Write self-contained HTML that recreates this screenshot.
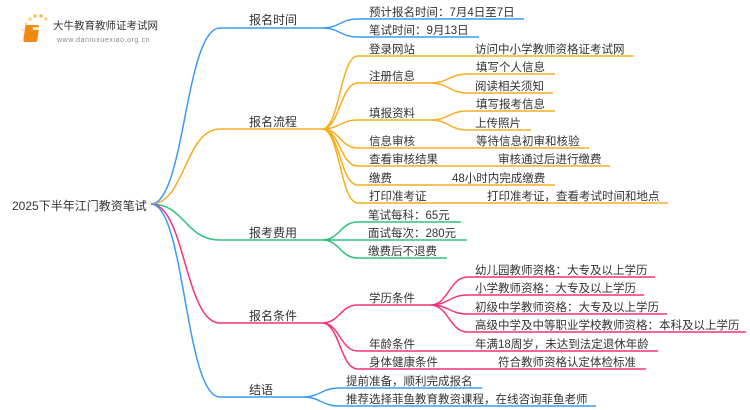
<!DOCTYPE html>
<html><head><meta charset="utf-8"><style>
html,body{margin:0;padding:0;background:#fff;}
svg{display:block;}
text{font-family:"Liberation Sans","Noto Sans CJK SC",sans-serif;font-size:11.5px;fill:#333;}
</style></head><body>
<svg width="750" height="410" viewBox="0 0 750 410" xmlns="http://www.w3.org/2000/svg">
<!-- logo -->
<g>
<circle cx="26" cy="24" r="1.5" fill="#fbd38a"/><circle cx="30" cy="19" r="1.6" fill="#fbc96a"/><circle cx="35" cy="16" r="1.7" fill="#f9bb4a"/><circle cx="41" cy="16" r="1.7" fill="#f9bb4a"/><circle cx="46" cy="19" r="1.6" fill="#fbc96a"/><circle cx="23" cy="30" r="1.3" fill="#fde0a8"/><circle cx="24" cy="37" r="1.2" fill="#fde8c0"/>
<rect x="29" y="25" width="14" height="17" rx="2" fill="#f08a10" transform="skewX(-8)"/>
<rect x="33" y="27" width="9" height="3" fill="#fff" opacity="0.8"/>
<text x="53" y="29" style="font-size:10.5px;fill:#333">大牛教育教师证考试网</text>
<text x="57" y="42" style="font-size:7px;fill:#888;letter-spacing:0.6px">www.daniuxuexiao.org.cn</text>
</g>
<g fill="none" stroke-width="1.5">
<!-- blue time -->
<path stroke="#3a9bf5" d="M151 204 C185 204 185 28 220 28 H322"/>
<path stroke="#3a9bf5" d="M322 28 C340 28 340 19 358 19 H524 M322 28 C340 28 340 37 358 37 H479"/>
<!-- orange process -->
<path stroke="#f7ad1e" d="M151 204 C185 204 185 129 220 129 H322"/>
<path stroke="#f7ad1e" d="M322 129 C340 129 340 56 358 56 H634 M322 129 C340 129 340 83 358 83 H430 M322 129 C340 129 340 120 358 120 H430 M322 129 C340 129 340 148 358 148 H589 M322 129 C340 129 340 166 358 166 H610 M322 129 C340 129 340 185 358 185 H555 M322 129 C340 129 340 203 358 203 H668"/>
<path stroke="#f7ad1e" d="M430 83 C449 83 449 74 468 74 H555 M430 83 C449 83 449 93 468 93 H553 M430 120 C449 120 449 111 468 111 H555 M430 120 C449 120 449 130 468 130 H531"/>
<!-- green fees -->
<path stroke="#2ec27e" d="M151 204 C185 204 185 240 220 240 H322"/>
<path stroke="#2ec27e" d="M322 240 C340 240 340 222 358 222 H461 M322 240 C340 240 340 240 358 240 H467 M322 240 C340 240 340 258 358 258 H447"/>
<!-- pink conditions -->
<path stroke="#f5307a" d="M151 204 C185 204 185 323 220 323 H322"/>
<path stroke="#f5307a" d="M322 323 C340 323 340 305 358 305 H430 M322 323 C340 323 340 351 358 351 H658 M322 323 C340 323 340 369 358 369 H646"/>
<path stroke="#f5307a" d="M430 305 C449 305 449 277 468 277 H655 M430 305 C449 305 449 295 468 295 H644 M430 305 C449 305 449 314 468 314 H667 M430 305 C449 305 449 332 468 332 H746"/>
<!-- blue summary -->
<path stroke="#3a9bf5" d="M151 204 C185 204 185 397 220 397 H302"/>
<path stroke="#3a9bf5" d="M302 397 C321 397 321 388 340 388 H482 M302 397 C321 397 321 406 340 406 H596"/>
</g>
<text x="12" y="210" style="font-size:12px">2025下半年江门教资笔试</text>
<text x="249" y="24" style="font-size:12px">报名时间</text>
<text x="249" y="126" style="font-size:12px">报名流程</text>
<text x="249" y="237" style="font-size:12px">报考费用</text>
<text x="249" y="320" style="font-size:12px">报名条件</text>
<text x="249" y="394" style="font-size:12px">结语</text>

<text x="369" y="16">预计报名时间：7月4日至7日</text>
<text x="369" y="34">笔试时间：9月13日</text>

<text x="369" y="53">登录网站</text><text x="475" y="53">访问中小学教师资格证考试网</text>
<text x="369" y="80">注册信息</text><text x="476" y="71">填写个人信息</text><text x="475" y="90">阅读相关须知</text>
<text x="369" y="117">填报资料</text><text x="476" y="108">填写报考信息</text><text x="475" y="127">上传照片</text>
<text x="369" y="145">信息审核</text><text x="476" y="145">等待信息初审和核验</text>
<text x="369" y="163">查看审核结果</text><text x="498" y="163">审核通过后进行缴费</text>
<text x="369" y="182">缴费</text><text x="452" y="182">48小时内完成缴费</text>
<text x="369" y="200">打印准考证</text><text x="487" y="200">打印准考证，查看考试时间和地点</text>

<text x="368" y="219">笔试每科：65元</text>
<text x="368" y="237">面试每次：280元</text>
<text x="368" y="255">缴费后不退费</text>

<text x="369" y="302">学历条件</text>
<text x="475" y="274">幼儿园教师资格：大专及以上学历</text>
<text x="475" y="292">小学教师资格：大专及以上学历</text>
<text x="475" y="311">初级中学教师资格：大专及以上学历</text>
<text x="475" y="329">高级中学及中等职业学校教师资格：本科及以上学历</text>
<text x="369" y="348">年龄条件</text><text x="475" y="348">年满18周岁，未达到法定退休年龄</text>
<text x="369" y="366">身体健康条件</text><text x="498" y="366">符合教师资格认定体检标准</text>

<text x="346" y="385">提前准备，顺利完成报名</text>
<text x="346" y="403">推荐选择菲鱼教育教资课程，在线咨询菲鱼老师</text>
</svg>
</body></html>
